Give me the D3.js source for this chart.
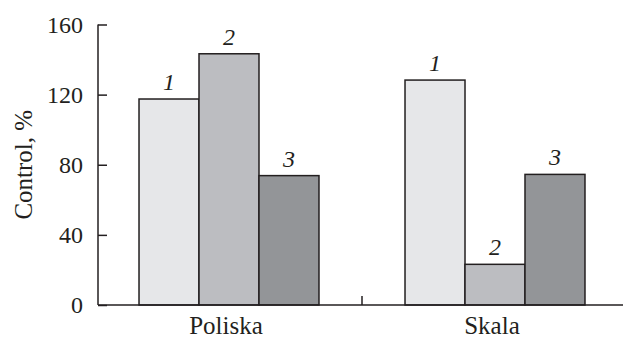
<!DOCTYPE html>
<html>
<head>
<meta charset="utf-8">
<script src="https://cdn.jsdelivr.net/npm/d3@7"></script>
<style>
  html, body { margin: 0; padding: 0; background: #fff; }
  svg { display: block; }
</style>
</head>
<body>
<svg id="chart" width="623" height="338" font-family="Liberation Serif, Times New Roman, Times, serif"></svg>
<script>
// Sites and the three treatments measured at each
const sites = ["Poliska", "Skala"];
const treatments = ["1", "2", "3"];
// Values as a percentage of control, per site, in treatment order
const poliskaValues = [117.5, 143.3, 73.8];
const skalaValues = [128.3, 23.2, 74.5];
const yTicks = [0, 40, 80, 120, 160];

const values = { Poliska: poliskaValues, Skala: skalaValues };
const fills = ["#e6e7e9", "#bcbdc1", "#939598"];
const ink = "#231f20";

const svg = d3.select("#chart");
const axisX = 98, baseY = 305, topY = 24.5;

const y = d3.scaleLinear().domain([0, 160]).range([baseY, topY]);
const x0 = d3.scaleBand().domain(sites).range([96, 628]).padding(0);
const x1 = d3.scaleBand().domain(treatments).range([0, x0.bandwidth()])
  .paddingInner(0).paddingOuter(0.717);

// Bars
const groups = svg.selectAll("g.site").data(sites).join("g")
  .attr("class", "site")
  .attr("transform", d => `translate(${x0(d)},0)`);

groups.selectAll("rect").data(s => values[s].map((v, i) => ({ v, t: treatments[i], i })))
  .join("rect")
  .attr("x", d => x1(d.t))
  .attr("y", d => y(d.v))
  .attr("width", x1.bandwidth())
  .attr("height", d => baseY - y(d.v))
  .attr("fill", d => fills[d.i])
  .attr("stroke", ink)
  .attr("stroke-width", 1.5);

// Treatment numbers above bars
groups.selectAll("text.num").data(s => values[s].map((v, i) => ({ v, t: treatments[i] })))
  .join("text")
  .attr("class", "num")
  .attr("x", d => x1(d.t) + x1.bandwidth() / 2)
  .attr("y", d => y(d.v) - 9)
  .attr("text-anchor", "middle")
  .attr("font-style", "italic")
  .attr("font-size", 24)
  .attr("fill", ink)
  .text(d => d.t);

// Y axis with inward ticks
const yAxis = d3.axisRight(y).tickValues(yTicks).tickSize(9).tickFormat("");
const gy = svg.append("g").attr("transform", `translate(${axisX},0)`).call(yAxis);
gy.select(".domain").attr("d", `M0,${topY}V${baseY}`);
gy.selectAll("line, path").attr("stroke", ink).attr("stroke-width", 1.5);

svg.append("g").selectAll("text").data(yTicks).join("text")
  .attr("x", axisX - 15)
  .attr("y", d => y(d))
  .attr("dy", "0.34em")
  .attr("text-anchor", "end")
  .attr("font-size", 24)
  .attr("fill", ink)
  .text(d => d);

// X axis baseline with a separator tick between sites
svg.append("line")
  .attr("x1", axisX).attr("x2", 623)
  .attr("y1", baseY).attr("y2", baseY)
  .attr("stroke", ink).attr("stroke-width", 1.5);
svg.append("line")
  .attr("x1", x0("Skala")).attr("x2", x0("Skala"))
  .attr("y1", baseY).attr("y2", baseY - 9)
  .attr("stroke", ink).attr("stroke-width", 1.5);

svg.append("g").selectAll("text").data(sites).join("text")
  .attr("x", d => x0(d) + x0.bandwidth() / 2 - 3)
  .attr("y", 334)
  .attr("text-anchor", "middle")
  .attr("font-size", 25)
  .attr("fill", ink)
  .text(d => d);

// Y axis title
svg.append("text")
  .attr("transform", `translate(32,${(baseY + topY) / 2}) rotate(-90)`)
  .attr("text-anchor", "middle")
  .attr("font-size", 25)
  .attr("fill", ink)
  .text("Control, %");
</script>
</body>
</html>
